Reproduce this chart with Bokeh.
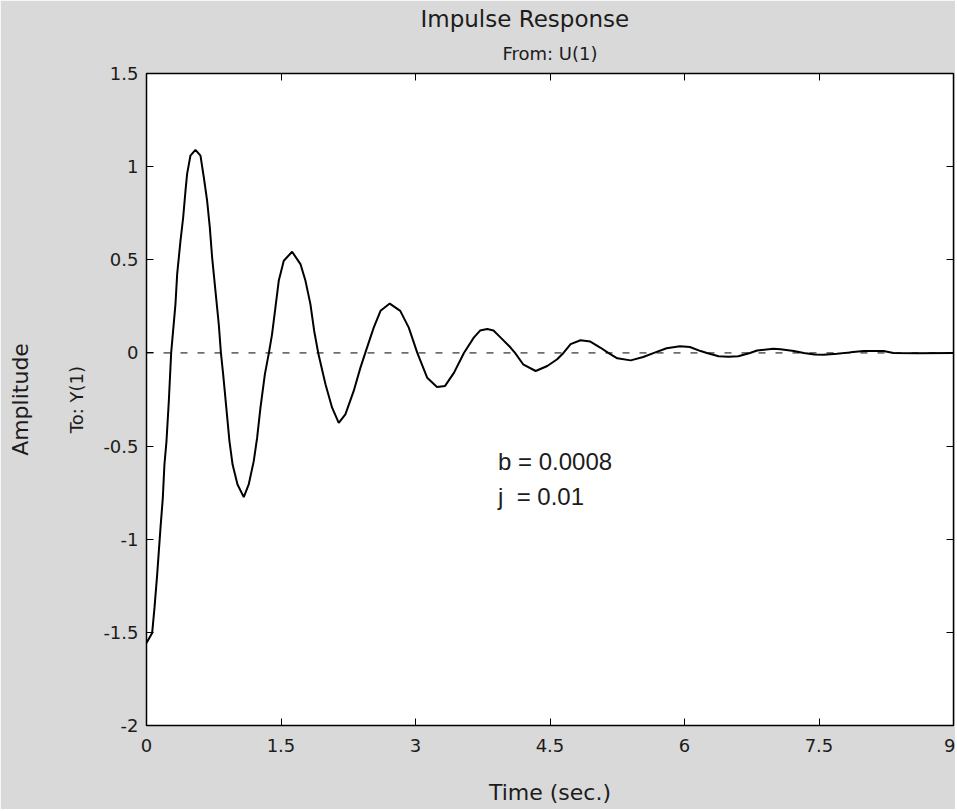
from bokeh.plotting import figure
from bokeh.models import (Range1d, LinearAxis, FixedTicker, Title, Label, Span,
                          ColumnDataSource)
from bokeh.embed import file_html
from bokeh.resources import INLINE

# ---- data ----
time_s = [0.000, 0.063, 0.089, 0.119, 0.156, 0.182, 0.200, 0.223, 0.249, 0.275,
          0.323, 0.342, 0.379, 0.409, 0.435, 0.453, 0.490, 0.546, 0.602, 0.639,
          0.676, 0.706, 0.732, 0.769, 0.806, 0.830, 0.855, 0.890, 0.925, 0.960,
          1.015, 1.085, 1.140, 1.196, 1.234, 1.271, 1.320, 1.365, 1.400, 1.438,
          1.475, 1.531, 1.624, 1.717, 1.773, 1.828, 1.870, 1.915, 1.996, 2.070,
          2.144, 2.218, 2.311, 2.386, 2.440, 2.534, 2.610, 2.713, 2.830, 2.925,
          3.020, 3.130, 3.240, 3.330, 3.430, 3.540, 3.650, 3.720, 3.800, 3.870,
          3.950, 4.060, 4.110, 4.200, 4.340, 4.470, 4.580, 4.650, 4.730, 4.840,
          4.950, 5.060, 5.150, 5.250, 5.400, 5.540, 5.660, 5.800, 5.950, 6.060,
          6.180, 6.250, 6.380, 6.490, 6.600, 6.730, 6.810, 6.990, 7.070, 7.220,
          7.330, 7.450, 7.550, 7.700, 7.850, 8.000, 8.100, 8.220, 8.330, 8.600,
          9.000]
amplitude = [-1.557, -1.504, -1.369, -1.190, -0.939, -0.778, -0.599, -0.473, -0.258, 0.000,
             0.262, 0.423, 0.602, 0.727, 0.871, 0.961, 1.059, 1.090, 1.059, 0.943,
             0.817, 0.674, 0.512, 0.333, 0.154, 0.000, -0.115, -0.294, -0.473, -0.599,
             -0.706, -0.774, -0.706, -0.581, -0.455, -0.294, -0.115, 0.000, 0.100, 0.244,
             0.387, 0.495, 0.543, 0.477, 0.387, 0.262, 0.118, 0.000, -0.168, -0.294,
             -0.375, -0.330, -0.204, -0.079, 0.000, 0.136, 0.226, 0.265, 0.226, 0.136,
             0.000, -0.133, -0.183, -0.177, -0.106, 0.000, 0.082, 0.120, 0.128, 0.120,
             0.082, 0.029, 0.000, -0.061, -0.097, -0.070, -0.034, 0.000, 0.047, 0.068,
             0.061, 0.029, 0.000, -0.029, -0.040, -0.022, 0.000, 0.025, 0.036, 0.032,
             0.010, 0.000, -0.018, -0.020, -0.018, 0.000, 0.013, 0.023, 0.020, 0.010,
             0.000, -0.008, -0.010, -0.005, 0.003, 0.010, 0.011, 0.010, 0.000, -0.002,
             0.000]

x_ticks = [0, 1.5, 3, 4.5, 6, 7.5, 9]
x_tick_labels = ["0", "1.5", "3", "4.5", "6", "7.5", "9"]
y_ticks = [-2, -1.5, -1, -0.5, 0, 0.5, 1, 1.5]
y_tick_labels = ["-2", "-1.5", "-1", "-0.5", "0", "0.5", "1", "1.5"]

title_text = "Impulse Response"
subtitle_text = "From: U(1)"
x_label = "Time (sec.)"
y_label_outer = "Amplitude"
y_label_inner = "To: Y(1)"
note_lines = ["b = 0.0008", "j\u00a0 = 0.01"]
note_x = 3.92
note_y = [-0.585, -0.773]

FONT = "DejaVu Sans"
NOTE_FONT = "Liberation Sans"
TXT = "#1c1c1c"
BG = "#d9d9d9"

p = figure(width=955, height=809, output_backend="svg", toolbar_location=None,
           x_range=Range1d(0, 9), y_range=Range1d(-2, 1.5),
           min_border_left=146, min_border_top=73, min_border_right=2,
           min_border_bottom=84)
p.border_fill_color = BG
p.background_fill_color = "white"
p.outline_line_color = "black"
p.outline_line_width = 1.5
p.grid.visible = False

def style_axis(ax, ticks, labels, show_labels=True):
    ax.ticker = FixedTicker(ticks=ticks)
    ax.major_label_overrides = {t: (l if show_labels else "") for t, l in zip(ticks, labels)}
    ax.major_tick_in = 7
    ax.major_tick_out = 0
    ax.minor_tick_line_color = None
    ax.major_tick_line_color = "black"
    ax.axis_line_color = None
    ax.major_label_text_font = FONT
    ax.major_label_text_font_size = "18px" if show_labels else "0px"
    ax.major_label_text_color = TXT
    ax.axis_label_text_font = FONT
    ax.axis_label_text_font_style = "normal"
    ax.axis_label_text_color = TXT

xa = p.xaxis[0]
style_axis(xa, x_ticks, x_tick_labels)
xa.major_label_standoff = 13
xa.axis_label = x_label
xa.axis_label_text_font_size = "22px"
xa.axis_label_standoff = 25

ya = p.yaxis[0]
style_axis(ya, y_ticks, y_tick_labels)
ya.major_label_standoff = 8
ya.axis_label = y_label_inner
ya.axis_label_text_font_size = "18px"
ya.axis_label_standoff = 13

# outer y label carried by a tick-less axis placed outside the first one
outer_ax = LinearAxis(ticker=FixedTicker(ticks=[]), axis_line_color=None,
                      major_tick_in=0, major_tick_out=0, minor_tick_in=0,
                      minor_tick_out=0, major_label_standoff=0,
                      major_label_text_font_size="0px",
                      axis_label=y_label_outer, axis_label_standoff=31,
                      axis_label_text_font=FONT, axis_label_text_font_size="22px",
                      axis_label_text_font_style="normal",
                      axis_label_text_color=TXT)
p.add_layout(outer_ax, "left")

top_ax = LinearAxis()
style_axis(top_ax, x_ticks, x_tick_labels, show_labels=False)
top_ax.major_label_standoff = 0
p.add_layout(top_ax, "above")
right_ax = LinearAxis()
style_axis(right_ax, y_ticks, y_tick_labels, show_labels=False)
right_ax.major_label_standoff = 0
p.add_layout(right_ax, "right")

p.add_layout(Title(text=subtitle_text, align="center", text_font=FONT,
                   text_font_size="18px", text_font_style="normal",
                   text_color=TXT, standoff=19), "above")
p.add_layout(Title(text=title_text, align="left", offset=274, text_font=FONT,
                   text_font_size="23px", text_font_style="normal",
                   text_color=TXT, standoff=0), "above")

p.add_layout(Span(location=0, dimension="width", line_color="black",
                  line_width=1, line_dash="7 10"))

src = ColumnDataSource(dict(t=time_s, y=amplitude))
p.line("t", "y", source=src, line_color="black", line_width=2)

for line, yy in zip(note_lines, note_y):
    p.add_layout(Label(x=note_x, y=yy, text=line, text_font=NOTE_FONT,
                       text_font_size="24px", text_color=TXT,
                       text_baseline="alphabetic"))

open("out.html", "w").write(file_html(p, INLINE))
